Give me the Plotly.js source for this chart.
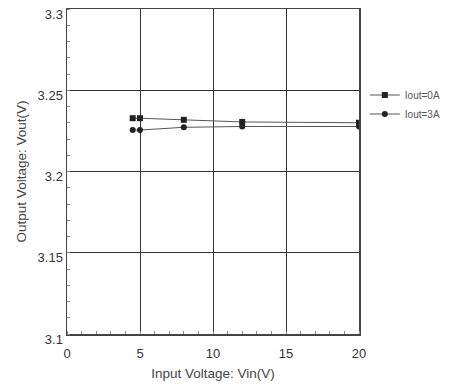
<!DOCTYPE html>
<html><head><meta charset="utf-8">
<script src="https://cdn.plot.ly/plotly-3.0.1.min.js"></script>
<style>html,body{margin:0;padding:0;background:#fff}#c{width:462px;height:387px}</style>
</head><body><div id="c"></div>
<script>
const vin = [4.5, 5, 8, 12, 20];
const vout0A = [3.2328, 3.2328, 3.2318, 3.2305, 3.2300];
const vout3A = [3.2255, 3.2255, 3.2272, 3.2277, 3.2277];
const seriesNames = ['Iout=0A', 'Iout=3A'];
const xTickVals = [0, 5, 10, 15, 20];
const xTickText = ['0', '5', '10', '15', '20'];
const yTickVals = [3.1, 3.15, 3.2, 3.25, 3.3];
const yTickText = ['3.1', '3.15', '3.2', '3.25', '3.3'];

const lineCol = '#555';
const traces = [
  {x: vin, y: vout0A, name: seriesNames[0], mode: 'lines+markers', type: 'scatter',
   line: {color: lineCol, width: 1}, marker: {symbol: 'square', size: 6, color: '#222'}},
  {x: vin, y: vout3A, name: seriesNames[1], mode: 'lines+markers', type: 'scatter',
   line: {color: lineCol, width: 1}, marker: {symbol: 'circle', size: 6, color: '#222'}}
];
const tickFnt = {family: 'Arial, Liberation Sans, sans-serif', size: 13, color: '#333'};
const titleFnt = {family: 'Arial, Liberation Sans, sans-serif', size: 13.5, color: '#444'};
const layout = {
  width: 462, height: 387,
  margin: {l: 67, r: 103, t: 9, b: 53},
  paper_bgcolor: '#fff', plot_bgcolor: '#fff',
  showlegend: true,
  legend: {x: 1.02, y: 0.78, xanchor: 'left', yanchor: 'top',
    font: {family: 'Arial, Liberation Sans, sans-serif', size: 10, color: '#555'},
    bgcolor: 'rgba(0,0,0,0)', itemwidth: 30, tracegroupgap: 0},
  xaxis: {range: [0, 20], tickmode: 'array', tickvals: xTickVals, ticktext: xTickText,
    showgrid: true, gridcolor: '#333', gridwidth: 1, zeroline: false,
    showline: true, linecolor: '#444', linewidth: 1.5, mirror: true,
    ticks: '', tickfont: tickFnt, ticklabelstandoff: 7,
    minor: {dtick: 1, ticks: 'inside', ticklen: 3, tickcolor: '#888', showgrid: false},
    title: {text: 'Input Voltage: Vin(V)', font: titleFnt, standoff: 8}},
  yaxis: {range: [3.1, 3.3], tickmode: 'array', tickvals: yTickVals, ticktext: yTickText,
    showgrid: true, gridcolor: '#333', gridwidth: 1, zeroline: false,
    showline: true, linecolor: '#444', linewidth: 1.5, mirror: true,
    ticks: '', tickfont: tickFnt, ticklabelshift: 5,
    minor: {dtick: 0.01, ticks: 'inside', ticklen: 3, tickcolor: '#888', showgrid: false},
    title: {text: 'Output Voltage: Vout(V)', font: titleFnt, standoff: 8}}
};
Plotly.newPlot('c', traces, layout, {staticPlot: true, displayModeBar: false});
</script></body></html>
